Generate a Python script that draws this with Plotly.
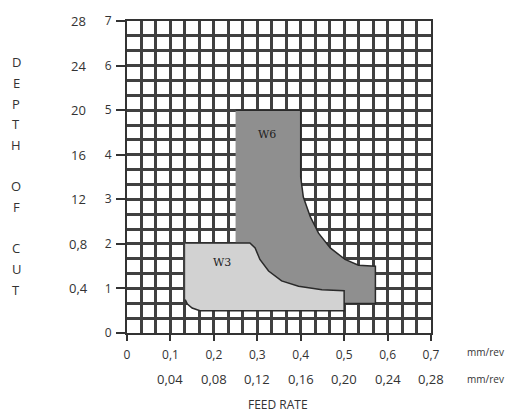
import plotly.graph_objects as go

# ---- data ----
feed_ticks = [0, 0.1, 0.2, 0.3, 0.4, 0.5, 0.6, 0.7]
feed_labels = ["0", "0,1", "0,2", "0,3", "0,4", "0,5", "0,6", "0,7"]
feed_ticks2 = [0.1, 0.2, 0.3, 0.4, 0.5, 0.6, 0.7]
feed_labels2 = ["0,04", "0,08", "0,12", "0,16", "0,20", "0,24", "0,28"]

depth_ticks = [0, 1, 2, 3, 4, 5, 6, 7]
depth_labels = ["0", "1", "2", "3", "4", "5", "6", "7"]
depth_ticks2 = [1, 2, 3, 4, 5, 6, 7]
depth_labels2 = ["0,4", "0,8", "12", "16", "20", "24", "28"]

w6_x = [0.25, 0.40, 0.400, 0.406, 0.422, 0.441, 0.468, 0.502, 0.533, 0.572, 0.572, 0.50, 0.25]
w6_y = [5.0, 5.0, 3.50, 3.05, 2.61, 2.24, 1.91, 1.65, 1.52, 1.50, 0.66, 0.66, 0.66]

w3_x = [0.134, 0.283, 0.295, 0.306, 0.326, 0.356, 0.395, 0.449, 0.500, 0.500, 0.168, 0.150, 0.139, 0.134]
w3_y = [2.02, 2.02, 1.91, 1.65, 1.39, 1.17, 1.05, 0.97, 0.95, 0.50, 0.50, 0.56, 0.65, 0.75]

title_letters = ["D", "E", "P", "T", "H", "O", "F", "C", "U", "T"]
letter_rows = [0, 1, 2, 3, 4, 6, 7, 9, 10, 11]

TXT = "#333333"
FONT = "Open Sans"
GRID = "#404040"

fig = go.Figure()
fig.add_trace(go.Scatter(x=w6_x, y=w6_y, fill="toself", fillcolor="#8f8f8f",
                         mode="lines", line=dict(color="#2a2a2a", width=1.5),
                         hoverinfo="skip", showlegend=False))
fig.add_trace(go.Scatter(x=w3_x, y=w3_y, fill="toself", fillcolor="#d2d2d2",
                         mode="lines", line=dict(color="#2a2a2a", width=1.5),
                         hoverinfo="skip", showlegend=False))

annotations = []
annotations.append(dict(x=0.323, y=4.45, xref="x", yref="y", text="W6", showarrow=False,
                        font=dict(family="DejaVu Serif", size=11, color="#222")))
annotations.append(dict(x=0.218, y=1.58, xref="x", yref="y", text="W3", showarrow=False,
                        font=dict(family="DejaVu Serif", size=11, color="#222")))

# second row of feed labels
for xv, t in zip(feed_ticks2, feed_labels2):
    annotations.append(dict(x=xv, y=-0.148, xref="x", yref="paper", text=t, showarrow=False,
                            xanchor="center", yanchor="middle",
                            font=dict(family=FONT, size=13, color=TXT)))
annotations.append(dict(x=1.178, y=-0.06, xref="paper", yref="paper", text="mm/rev",
                        showarrow=False, xanchor="center", yanchor="middle",
                        font=dict(family=FONT, size=10, color=TXT)))
annotations.append(dict(x=1.178, y=-0.148, xref="paper", yref="paper", text="mm/rev",
                        showarrow=False, xanchor="center", yanchor="middle",
                        font=dict(family=FONT, size=10, color=TXT)))
annotations.append(dict(x=0.497, y=-0.23, xref="paper", yref="paper", text="FEED RATE",
                        showarrow=False, xanchor="center", yanchor="middle",
                        font=dict(family=FONT, size=12, color=TXT)))

# left column of depth labels
for yv, t in zip(depth_ticks2, depth_labels2):
    annotations.append(dict(x=-0.161, y=yv, xref="paper", yref="y", text=t, showarrow=False,
                            xanchor="center", yanchor="middle",
                            font=dict(family=FONT, size=13, color=TXT)))

# vertical stacked title
plot_top, plot_h = 16, 317
for letter, row in zip(title_letters, letter_rows):
    ypix = 58 + row * 21
    annotations.append(dict(x=-0.365, y=1 - (ypix - plot_top) / plot_h, xref="paper", yref="paper",
                            text=letter, showarrow=False, xanchor="center", yanchor="middle",
                            font=dict(family=FONT, size=13, color=TXT)))

fig.update_layout(
    width=513, height=416,
    margin=dict(l=127, r=82, t=16, b=83),
    paper_bgcolor="white", plot_bgcolor="white",
    annotations=annotations,
    showlegend=False,
)
fig.update_xaxes(range=[0, 0.7], tickvals=feed_ticks, ticktext=feed_labels,
                 ticks="outside", ticklen=6, tickwidth=1.5, tickcolor="#333",
                 showgrid=True, gridcolor=GRID, gridwidth=3,
                 minor=dict(dtick=1/30, tick0=0, showgrid=True, gridcolor=GRID, gridwidth=3),
                 showline=True, linecolor="#333", linewidth=2, mirror=True,
                 zeroline=False, tickfont=dict(family=FONT, size=12, color=TXT),
                 ticklabelstandoff=4, fixedrange=True)
fig.update_yaxes(range=[0, 7], tickvals=depth_ticks, ticktext=depth_labels,
                 ticks="outside", ticklen=9, tickwidth=1.5, tickcolor="#333",
                 showgrid=True, gridcolor=GRID, gridwidth=3,
                 minor=dict(dtick=1/3, tick0=0, showgrid=True, gridcolor=GRID, gridwidth=3),
                 showline=True, linecolor="#333", linewidth=2, mirror=True,
                 zeroline=False, tickfont=dict(family=FONT, size=12, color=TXT),
                 ticklabelstandoff=2, fixedrange=True)

fig.write_html("out.html")
